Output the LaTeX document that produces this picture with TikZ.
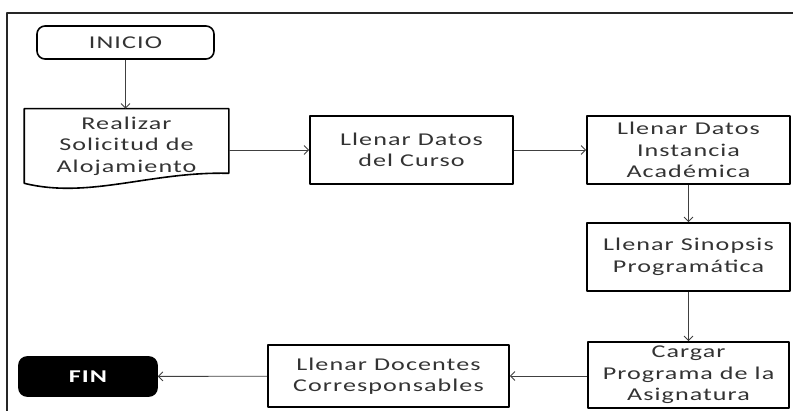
\documentclass[tikz,border=0pt]{standalone}
\usepackage{fontspec}
\setmainfont{Carlito}[FakeStretch=1.45,LetterSpace=6]
\usetikzlibrary{positioning,arrows.meta}

\begin{document}
\begin{tikzpicture}[>={Straight Barb[length=4.5bp,width=9bp]},line join=bevel,
  proc/.style={draw=black,line width=1.6bp,align=center,inner sep=0pt,
    minimum width=203bp,minimum height=68bp,text=black!80,
    font=\fontsize{18bp}{21.5bp}\selectfont},
  term/.style={proc,rounded corners=8bp},
  flow/.style={->,draw=black!75,line width=0.9bp}]
%%
\useasboundingbox (0bp,0bp) rectangle (793bp,411bp);
\draw [black!85,line width=2bp] (7bp,-2bp) -- (7bp,398bp) -- (796bp,398bp);
  \node (inicio) at (125.5bp,368.5bp) [term,minimum width=177bp,minimum height=33bp] {INICIO};
  \node (realizar) at (126.5bp,265bp) [proc,draw=none,minimum height=73bp] {Realizar\\Solicitud de\\Alojamiento};
  \node (curso) at (411.5bp,261bp) [proc] {Llenar Datos\\del Curso};
  \node (instancia) at (688.5bp,261bp) [proc] {Llenar Datos\\Instancia\\Académica};
  \node (sinopsis) at (688.5bp,154bp) [proc] {Llenar Sinopsis\\Programática};
  \node (cargar) at (688.5bp,36bp) [proc,minimum width=201bp,minimum height=66bp] {Cargar\\Programa de la\\Asignatura};
  \node (docentes) at (388.5bp,35bp) [proc,minimum width=241bp,minimum height=62bp] {Llenar Docentes\\Corresponsables};
  \node (fin) at (88bp,34.5bp) [term,fill=black,text=white,minimum width=138bp,minimum height=39bp,
    font=\fontsize{18bp}{21.5bp}\selectfont\bfseries] {FIN};
%
  \draw [black,line width=1.6bp] (realizar.south west) -- (realizar.north west) -- (realizar.north east)
    -- ([yshift=10bp]realizar.south east)
    .. controls ([xshift=-78bp,yshift=12bp]realizar.south east) and ([xshift=65bp,yshift=-16bp]realizar.south west)
    .. (realizar.south west) -- cycle;
%
  \draw [flow] (inicio.south) -- (inicio.south |- realizar.north);
  \draw [flow] (realizar.east |- curso.west) -- (curso.west);
  \draw [flow] (curso) -- (instancia);
  \draw [flow] (instancia) -- (sinopsis);
  \draw [flow] (sinopsis) -- (cargar);
  \draw [flow] (cargar.west |- docentes.east) -- (docentes.east);
  \draw [flow] (docentes) -- (fin);
%
\end{tikzpicture}
\end{document}
